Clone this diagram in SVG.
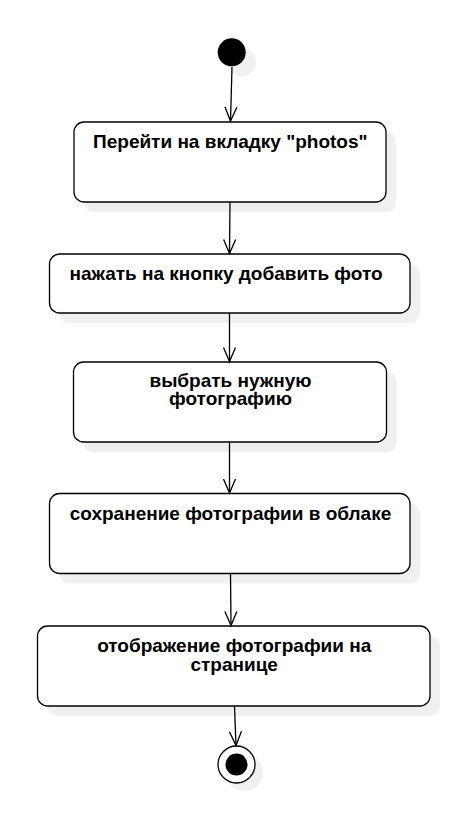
<svg xmlns="http://www.w3.org/2000/svg" width="466" height="820" viewBox="0 0 466 820">
<defs>
<style>
.box{fill:#ffffff;stroke:#000000;stroke-width:1.3}
.sh{fill:#000000;fill-opacity:0.06}
.lbl{font-family:"Liberation Sans",Arial,sans-serif;font-weight:bold;font-size:19px;fill:#000000;text-anchor:middle}
.edge{fill:none;stroke:#000000;stroke-width:1.3}
</style>
<marker id="open" markerUnits="userSpaceOnUse" markerWidth="20" markerHeight="20" refX="15" refY="10" orient="auto" viewBox="0 0 20 20">
<path d="M1,4 L15,10 L1,16" fill="none" stroke="#000" stroke-width="1.3"/>
</marker>
</defs>
<rect width="466" height="820" fill="#ffffff"/>

<g id="start">
<circle cx="242" cy="62" r="14" class="sh"/>
<circle cx="231.7" cy="52.3" r="14" fill="#000000"/>
</g>

<g id="n1">
<rect x="84" y="132" width="312" height="80" rx="10" class="sh"/>
<rect x="74" y="122" width="312" height="80" rx="10" class="box"/>
<text x="230.3" y="148.3" class="lbl">Перейти на вкладку "photos"</text>
</g>

<g id="n2">
<rect x="59.5" y="264" width="360.5" height="59" rx="10" class="sh"/>
<rect x="49.5" y="254" width="360.5" height="59" rx="10" class="box"/>
<text x="226" y="280" class="lbl">нажать на кнопку добавить фото</text>
</g>

<g id="n3">
<rect x="83.5" y="372" width="313" height="80" rx="10" class="sh"/>
<rect x="73.5" y="362" width="313" height="80" rx="10" class="box"/>
<text class="lbl"><tspan x="230.5" y="386.7">выбрать нужную</tspan><tspan x="230.5" y="404.7">фотографию</tspan></text>
</g>

<g id="n4">
<rect x="59.5" y="503.5" width="360.5" height="80" rx="10" class="sh"/>
<rect x="49.5" y="493.5" width="360.5" height="80" rx="10" class="box"/>
<text x="230.5" y="520" class="lbl">сохранение фотографии в облаке</text>
</g>

<g id="n5">
<rect x="47.5" y="636" width="392.5" height="80" rx="10" class="sh"/>
<rect x="37.5" y="626" width="392.5" height="80" rx="10" class="box"/>
<text class="lbl"><tspan x="234.2" y="652.3">отображение фотографии на</tspan><tspan x="234.2" y="670.5">странице</tspan></text>
</g>

<g id="end">
<circle cx="244.5" cy="772.5" r="18.5" class="sh"/>
<circle cx="236.5" cy="764.5" r="18.5" fill="#ffffff" stroke="#000000" stroke-width="1.3"/>
<circle cx="236.5" cy="764.5" r="11" fill="#000000"/>
</g>

<g id="edges">
<path d="M232,67 L230.5,121" class="edge" marker-end="url(#open)"/>
<path d="M230,202 L229.5,253.5" class="edge" marker-end="url(#open)"/>
<path d="M229.5,313 L229.5,361.5" class="edge" marker-end="url(#open)"/>
<path d="M229.5,442 L229.5,493" class="edge" marker-end="url(#open)"/>
<path d="M230.5,573.5 L231,625.5" class="edge" marker-end="url(#open)"/>
<path d="M234.5,706 L236,745.5" class="edge" marker-end="url(#open)"/>
</g>
</svg>
